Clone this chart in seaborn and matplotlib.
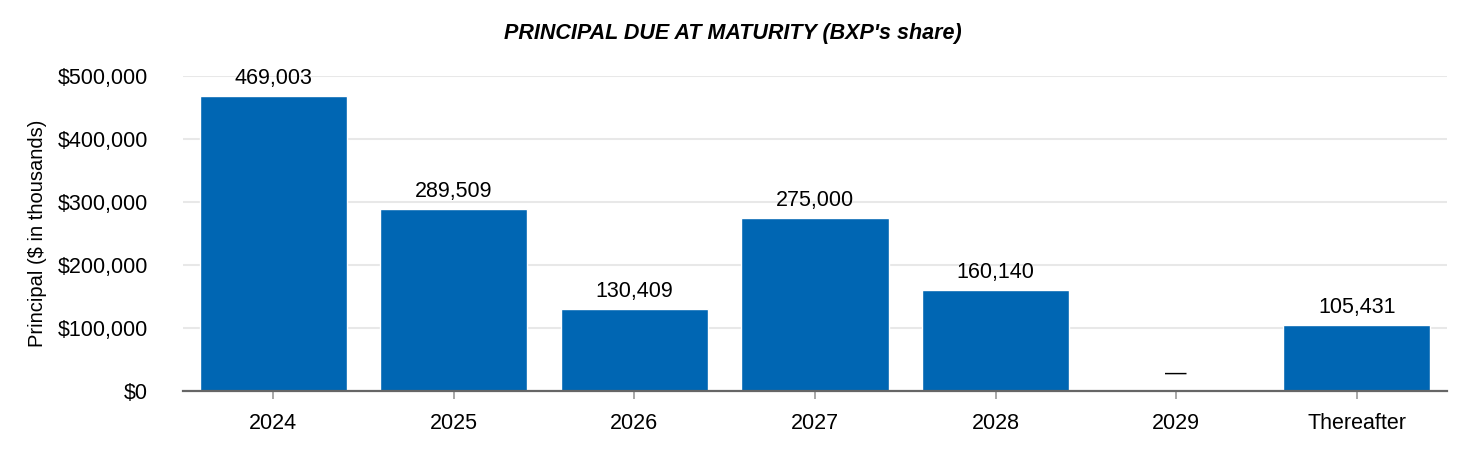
import matplotlib
matplotlib.use("Agg")
import matplotlib.pyplot as plt
import seaborn as sns
import pandas as pd
from matplotlib.ticker import FuncFormatter

categories = ["2024", "2025", "2026", "2027", "2028", "2029", "Thereafter"]
principal = [469003, 289509, 130409, 275000, 160140, 0, 105431]
bar_labels = ["469,003", "289,509", "130,409", "275,000", "160,140", "—", "105,431"]

sns.set_theme(style="white")
plt.rcParams['font.family'] = ['Liberation Sans', 'DejaVu Sans']
plt.rcParams['text.color'] = 'black'
plt.rcParams['axes.labelcolor'] = 'black'
plt.rcParams['xtick.color'] = 'black'
plt.rcParams['ytick.color'] = 'black'

df = pd.DataFrame({"year": categories, "principal": principal})

fig = plt.figure(figsize=(14.66, 4.5), dpi=100)
ax = fig.add_axes([0.1248, 0.1311, 0.8622, 0.7000])

sns.barplot(data=df, x="year", y="principal", color="#0066B3", saturation=1,
            width=0.815, ax=ax)

ax.set_ylim(0, 500000)
ax.set_xlim(-0.5, len(categories) - 0.5)
ax.set_yticks([0, 100000, 200000, 300000, 400000, 500000])
ax.yaxis.set_major_formatter(FuncFormatter(lambda v, p: f"${v:,.0f}"))
ax.grid(axis="y", color="#e8e8e8", linewidth=1.5)
ax.set_axisbelow(True)
for s in ["top", "right", "left"]:
    ax.spines[s].set_visible(False)
ax.spines["bottom"].set_color("#666666")
ax.spines["bottom"].set_linewidth(1.6)
ax.tick_params(axis="x", length=6, width=1.2, color="#999999", labelsize=15.5,
               labelcolor="black", pad=9.5, direction="out", bottom=True)
ax.tick_params(axis="y", length=0, labelsize=15.5, labelcolor="black", pad=25)
ax.set_xlabel("")
ax.set_ylabel("Principal ($ in thousands)", fontsize=14.5, labelpad=8, color="black")

ax.bar_label(ax.containers[0], labels=bar_labels, padding=5, fontsize=15.5, color="black")

fig.suptitle("PRINCIPAL DUE AT MATURITY (BXP's share)", fontsize=15.5, fontweight="bold",
             fontstyle="italic", y=0.95, color="black")

fig.savefig("out.png", dpi=100, facecolor="white")
